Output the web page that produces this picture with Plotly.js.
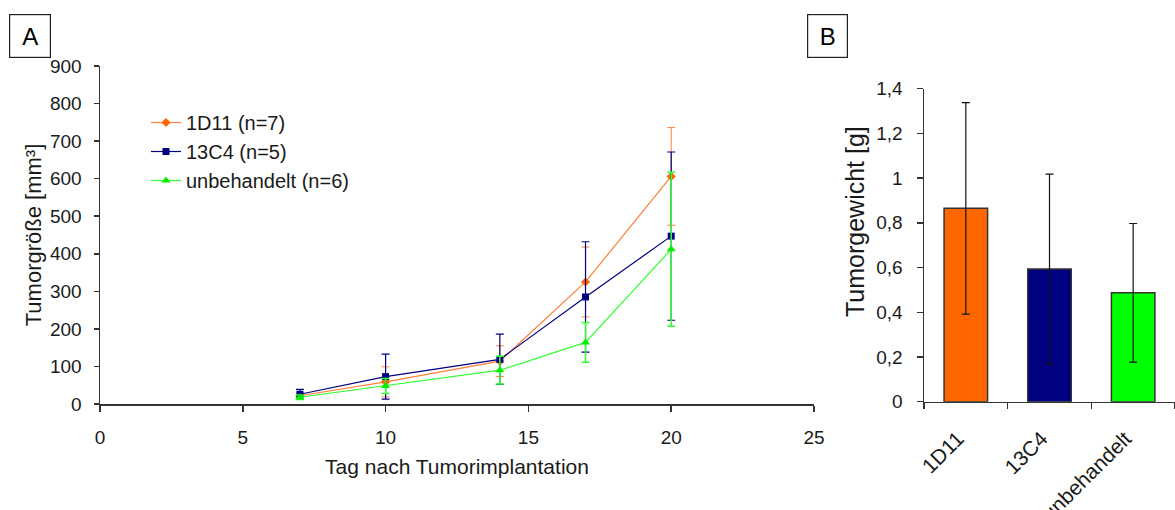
<!DOCTYPE html>
<html>
<head>
<meta charset="utf-8">
<script src="https://cdn.plot.ly/plotly-3.0.1.min.js"></script>
<style>
  html, body { margin: 0; padding: 0; background: #fff; }
  #chart { width: 1175px; height: 510px; }
</style>
</head>
<body>
<div id="chart"></div>
<script>
// Panel A: tumour volume over time (mean ± SD)
const days = [7, 10, 14, 17, 20];
const vol1D11 = [22, 59, 114, 325, 606];
const sd1D11 = [8, 40, 41, 93, 130];
const vol13C4 = [26, 73, 119, 285, 447];
const sd13C4 = [13, 60, 67, 147, 224];
const volUnbeh = [18, 48, 90, 164, 412];
const sdUnbeh = [6, 20, 37, 53, 205];
const seriesNames = ['1D11 (n=7)', '13C4 (n=5)', 'unbehandelt (n=6)'];

// Panel B: tumour weight at the end (mean ± SD)
const groups = ['1D11', '13C4', 'unbehandelt'];
const weight = [0.865, 0.593, 0.487];
const weightSD = [0.473, 0.425, 0.31];

const FONT = 'Liberation Sans, Arial, sans-serif';
const TXT = '#1a1a1a';
const AX = '#333333';
const W = 1175, H = 510;
const px = v => v / W;
const py = v => (H - v) / H;

function lineTrace(y, sd, name, lineColor, markColor, symbol, size, group, ebThick) {
  return {
    type: 'scatter', mode: 'lines+markers',
    x: days, y: y, name: name, legendgroup: group,
    xaxis: 'x', yaxis: 'y',
    line: { color: lineColor, width: 1.2 },
    marker: { color: markColor, symbol: symbol, size: size },
    error_y: { type: 'data', array: sd, visible: true, color: lineColor, thickness: ebThick, width: 4 }
  };
}

const traces = [
  lineTrace(vol1D11, sd1D11, seriesNames[0], '#ff7f3f', '#ff6600', 'diamond', 7, 'a', 1),
  lineTrace(vol13C4, sd13C4, seriesNames[1], '#000080', '#000080', 'square', 7, 'b', 1.2),
  lineTrace(volUnbeh, sdUnbeh, seriesNames[2], '#33ff33', '#00ee00', 'triangle-up', 8, 'c', 1.5),
  {
    type: 'bar', x: groups, y: weight, xaxis: 'x2', yaxis: 'y2', showlegend: false,
    width: 0.52,
    marker: { color: ['#ff6600', '#000080', '#00ff00'], line: { color: '#333333', width: 1.5 } },
    error_y: { type: 'data', array: weightSD, visible: true, color: '#111111', thickness: 1.2, width: 4 }
  }
];

const layout = {
  width: W, height: H,
  margin: { l: 0, r: 0, t: 0, b: 0 },
  paper_bgcolor: '#ffffff', plot_bgcolor: '#ffffff',
  separators: ',.',
  font: { family: FONT, color: TXT, size: 18 },
  showlegend: true,
  legend: {
    x: px(146), y: py(103), xanchor: 'left', yanchor: 'top',
    font: { family: FONT, size: 20, color: TXT },
    tracegroupgap: 0, bgcolor: 'rgba(0,0,0,0)'
  },
  xaxis: {
    domain: [px(100), px(814)], anchor: 'y',
    range: [0, 25], dtick: 5, tick0: 0,
    showgrid: false, zeroline: false, showline: true, linecolor: AX, linewidth: 1.5,
    ticks: 'outside', ticklen: 6, tickcolor: AX, tickwidth: 1.5,
    ticklabelstandoff: 10,
    tickfont: { family: FONT, size: 19, color: TXT },
    title: { text: 'Tag nach Tumorimplantation', font: { family: FONT, size: 21, color: TXT }, standoff: 12 }
  },
  yaxis: {
    domain: [py(404), py(66)], anchor: 'x',
    range: [0, 900], dtick: 100,
    showgrid: false, zeroline: false, showline: true, linecolor: AX, linewidth: 1.5,
    ticks: 'outside', ticklen: 5, tickcolor: AX, tickwidth: 1.5,
    ticklabelstandoff: 8,
    tickfont: { family: FONT, size: 19, color: TXT },
    title: { text: 'Tumorgröße [mm³]', font: { family: FONT, size: 22, color: TXT }, standoff: 2 }
  },
  xaxis2: {
    domain: [px(924), 1], anchor: 'y2',
    type: 'category', range: [-0.5, 2.5],
    showgrid: false, zeroline: false, showline: true, linecolor: AX, linewidth: 1.5,
    ticks: 'outside', ticklen: 6, tickcolor: AX, tickwidth: 1.5, tickson: 'boundaries',
    tickangle: -45, ticklabelstandoff: 15, ticklabelshift: -8,
    tickfont: { family: FONT, size: 21, color: TXT }
  },
  yaxis2: {
    domain: [py(401.7), py(88.7)], anchor: 'x2',
    range: [0, 1.4], dtick: 0.2,
    showgrid: false, zeroline: false, showline: true, linecolor: AX, linewidth: 1.5,
    ticks: 'outside', ticklen: 6, tickcolor: AX, tickwidth: 1.5,
    ticklabelstandoff: 10,
    tickfont: { family: FONT, size: 19, color: TXT }
  },
  annotations: [
    { text: 'A', xref: 'paper', yref: 'paper', x: px(30), y: py(36), xanchor: 'center', yanchor: 'middle',
      showarrow: false, font: { family: FONT, size: 24, color: '#000' },
      width: 38, height: 40, bordercolor: '#222', borderwidth: 1.2, borderpad: 1, bgcolor: '#fff' },
    { text: 'B', xref: 'paper', yref: 'paper', x: px(827), y: py(36), xanchor: 'center', yanchor: 'middle',
      showarrow: false, font: { family: FONT, size: 24, color: '#000' },
      width: 37, height: 40, bordercolor: '#222', borderwidth: 1.2, borderpad: 1, bgcolor: '#fff' },
    { text: 'Tumorgewicht [g]', xref: 'paper', yref: 'paper', x: px(855), y: py(222), xanchor: 'center', yanchor: 'middle',
      textangle: -90, showarrow: false, font: { family: FONT, size: 25, color: TXT } }
  ]
};

Plotly.newPlot('chart', traces, layout, { displayModeBar: false, staticPlot: true });
</script>
</body>
</html>
